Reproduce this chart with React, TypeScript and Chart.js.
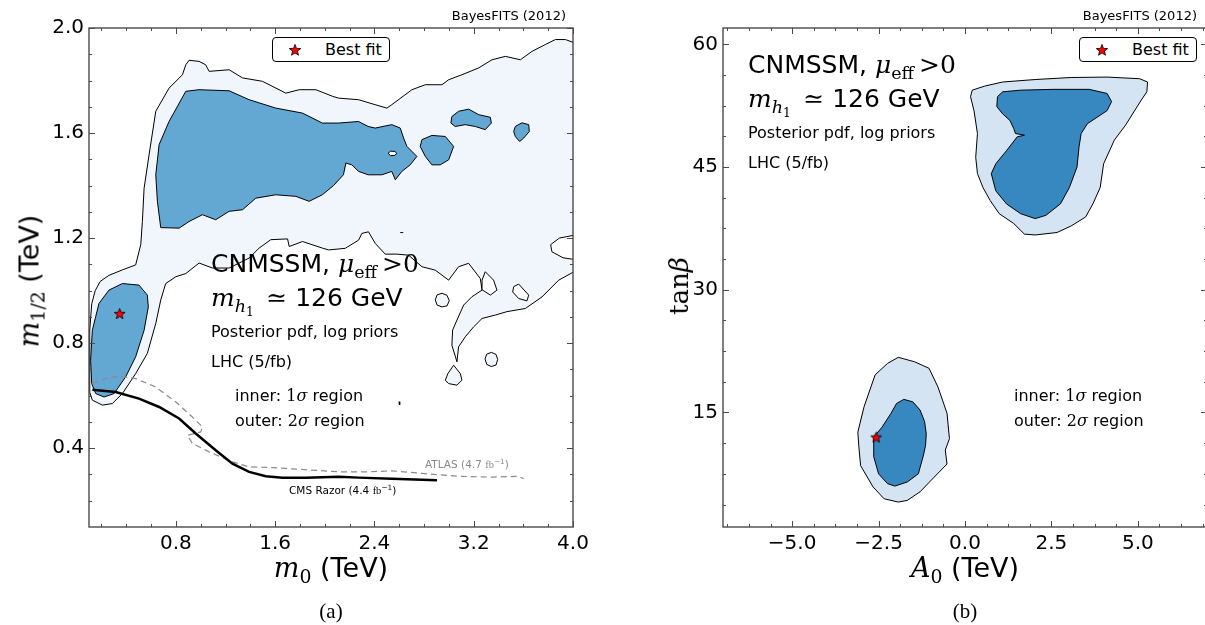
import React, { useEffect, useRef } from "react";
import { Chart, registerables } from "chart.js";

Chart.register(...registerables);

type Pt = [number, number];

// ---------------- Panel (a): m0 vs m1/2 (TeV) ----------------
const aXRange: Pt = [0.1, 4.0];
const aYRange: Pt = [0.1, 2.0];
const aXTicks = [0.8, 1.6, 2.4, 3.2, 4.0];
const aYTicks = [0.4, 0.8, 1.2, 1.6, 2.0];

// outer (2 sigma) region
const a2SigmaMain: Pt[] = [
  [0.127, 0.583], [0.108, 0.61], [0.104, 0.7], [0.108, 0.85], [0.122, 0.95], [0.15, 1.0], [0.19, 1.035],
  [0.26, 1.058], [0.369, 1.079], [0.476, 1.098], [0.517, 1.175], [0.53, 1.263], [0.544, 1.39], [0.584, 1.517],
  [0.638, 1.683], [0.745, 1.771], [0.853, 1.822], [0.88, 1.86], [0.906, 1.877], [0.987, 1.873], [1.04, 1.86],
  [1.068, 1.835], [1.229, 1.841], [1.337, 1.81], [1.498, 1.797], [1.686, 1.752], [1.794, 1.765], [1.928, 1.765],
  [2.062, 1.74], [2.11, 1.733], [2.272, 1.727], [2.406, 1.708], [2.5, 1.695], [2.54, 1.708], [2.702, 1.765],
  [2.81, 1.784], [2.944, 1.784], [2.998, 1.803], [3.105, 1.822], [3.24, 1.848], [3.347, 1.879], [3.455, 1.892],
  [3.576, 1.879], [3.67, 1.911], [3.777, 1.937], [3.858, 1.956], [3.939, 1.956], [3.992, 1.947], [4.02, 1.94],
  [4.02, 1.212], [3.89, 1.2], [3.82, 1.175], [3.83, 1.148], [3.92, 1.125], [4.02, 1.118],
  [4.02, 1.075], [3.885, 1.04], [3.75, 0.976], [3.616, 0.932], [3.468, 0.92], [3.374, 0.907], [3.267, 0.894],
  [3.199, 0.862], [3.132, 0.824], [3.078, 0.786], [3.065, 0.729], [3.024, 0.792], [3.03, 0.85], [3.065, 0.888],
  [3.119, 0.945], [3.186, 0.977], [3.267, 1.002], [3.253, 1.046], [3.159, 1.104], [3.078, 1.091], [2.998, 1.04],
  [2.89, 1.078], [2.783, 1.091], [2.675, 1.135], [2.581, 1.139], [2.487, 1.139], [2.406, 1.18], [2.352, 1.224],
  [2.299, 1.218], [2.272, 1.192], [2.164, 1.161], [2.03, 1.155], [1.98, 1.162], [1.82, 1.187], [1.713, 1.168],
  [1.7, 1.197], [1.565, 1.194], [1.471, 1.162], [1.39, 1.124], [1.229, 1.086], [1.095, 1.086], [0.987, 1.105],
  [0.88, 1.065], [0.8, 1.053], [0.718, 1.027], [0.678, 0.964], [0.638, 0.875], [0.57, 0.761], [0.476, 0.684],
  [0.369, 0.608], [0.288, 0.57], [0.208, 0.564], [0.127, 0.583],
];
const a2SigmaTeardrop: Pt[] = [
  [3.038, 0.716], [3.092, 0.684], [3.105, 0.659], [3.065, 0.64], [2.998, 0.646], [2.971, 0.659], [2.992, 0.684], [3.038, 0.716],
];
const a2SigmaBlobA: Pt[] = [
  [3.342, 0.765], [3.38, 0.757], [3.393, 0.738], [3.38, 0.717], [3.342, 0.711], [3.305, 0.719], [3.291, 0.74], [3.305, 0.758], [3.342, 0.765],
];
const a2SigmaBlobB: Pt[] = [
  [2.945, 0.99], [2.985, 0.982], [3.003, 0.962], [2.985, 0.942], [2.945, 0.938], [2.905, 0.945], [2.89, 0.965], [2.905, 0.984], [2.945, 0.99],
];
const a2SigmaHoleA: Pt[] = [
  [3.522, 1.015], [3.562, 1.025], [3.643, 0.983], [3.629, 0.961], [3.562, 0.97], [3.514, 0.995], [3.522, 1.015],
];
const a2SigmaHoleB: Pt[] = [
  [3.293, 1.072], [3.36, 1.04], [3.387, 1.002], [3.334, 0.983], [3.272, 1.002], [3.267, 1.04], [3.293, 1.072],
];

// inner (1 sigma) regions
const a1SigmaMain: Pt[] = [
  [0.88, 1.759], [0.987, 1.765], [1.229, 1.761], [1.39, 1.727], [1.605, 1.695], [1.82, 1.676], [1.98, 1.638],
  [2.11, 1.638], [2.272, 1.644], [2.35, 1.625], [2.406, 1.619], [2.54, 1.632], [2.608, 1.619], [2.635, 1.581],
  [2.662, 1.549], [2.742, 1.511], [2.688, 1.479], [2.621, 1.454], [2.568, 1.422], [2.54, 1.454], [2.46, 1.441],
  [2.35, 1.441], [2.272, 1.454], [2.218, 1.479], [2.17, 1.486], [2.15, 1.441], [2.07, 1.4], [1.98, 1.365],
  [1.874, 1.34], [1.767, 1.359], [1.605, 1.365], [1.444, 1.352], [1.337, 1.308], [1.229, 1.302], [1.121, 1.27],
  [1.014, 1.289], [0.906, 1.263], [0.826, 1.238], [0.678, 1.24], [0.651, 1.34], [0.638, 1.441], [0.665, 1.556],
  [0.745, 1.644], [0.88, 1.759],
];
const a1SigmaLowM0: Pt[] = [
  [0.154, 0.608], [0.221, 0.595], [0.302, 0.608], [0.396, 0.672], [0.476, 0.748], [0.544, 0.849], [0.578, 0.938],
  [0.57, 0.983], [0.503, 1.021], [0.369, 1.027], [0.261, 1.002], [0.18, 0.951], [0.127, 0.849], [0.113, 0.735],
  [0.122, 0.646], [0.154, 0.608],
];
const a1SigmaIsle1: Pt[] = [
  [2.783, 1.575], [2.863, 1.591], [2.971, 1.587], [3.038, 1.549], [2.998, 1.498], [2.93, 1.479], [2.863, 1.479],
  [2.81, 1.511], [2.769, 1.549], [2.783, 1.575],
];
const a1SigmaIsle2: Pt[] = [
  [3.024, 1.663], [3.078, 1.683], [3.159, 1.691], [3.24, 1.67], [3.334, 1.66], [3.342, 1.638], [3.293, 1.613],
  [3.213, 1.625], [3.132, 1.632], [3.051, 1.625], [3.016, 1.638], [3.024, 1.663],
];
const a1SigmaIsle3: Pt[] = [
  [3.535, 1.625], [3.589, 1.639], [3.643, 1.632], [3.648, 1.606], [3.603, 1.581], [3.57, 1.568], [3.535, 1.587],
  [3.522, 1.606], [3.535, 1.625],
];
const a1SigmaHole: Pt[] = [
  [2.51, 1.523], [2.53, 1.531], [2.565, 1.53], [2.58, 1.523], [2.565, 1.515], [2.53, 1.514], [2.51, 1.523],
];
const aStrayDash: Pt[] = [[2.608, 1.221], [2.632, 1.221]];
const aStrayTick: Pt[] = [[2.6, 0.578], [2.603, 0.565]];

// LHC exclusion limits
const cmsRazor: Pt[] = [
  [0.127, 0.623], [0.315, 0.614], [0.503, 0.589], [0.665, 0.557], [0.826, 0.513], [0.96, 0.456], [1.121, 0.392],
  [1.256, 0.341], [1.39, 0.31], [1.525, 0.293], [1.659, 0.288], [1.847, 0.288], [2.116, 0.291], [2.272, 0.288],
  [2.54, 0.284], [2.904, 0.278],
];
const atlas: Pt[] = [
  [0.127, 0.646], [0.234, 0.665], [0.342, 0.674], [0.476, 0.665], [0.638, 0.633], [0.8, 0.576], [0.933, 0.519],
  [1.014, 0.481], [1.0, 0.462], [0.893, 0.449], [0.933, 0.418], [1.068, 0.386], [1.256, 0.348], [1.39, 0.329],
  [1.578, 0.326], [1.82, 0.319], [2.116, 0.31], [2.353, 0.31], [2.541, 0.314], [2.809, 0.303], [3.078, 0.293],
  [3.347, 0.29], [3.562, 0.293], [3.603, 0.284],
];
const aBestFit: Pt = [0.347, 0.913];

// ---------------- Panel (b): A0 vs tan(beta) ----------------
const bXRange: Pt = [-7, 7];
const bYRange: Pt = [1, 62];
const bXTicks = [-5, -2.5, 0, 2.5, 5];
const bYTicks = [15, 30, 45, 60];

const b2SigmaHigh: Pt[] = [
  [0.16, 53.6], [0.21, 54.4], [0.57, 54.9], [1.09, 55.4], [2.03, 55.7], [3.07, 55.95], [4.11, 56.0], [5.05, 55.8],
  [5.28, 55.4], [5.26, 54.2], [5.1, 53.2], [4.64, 50.1], [4.32, 48.3], [4.01, 45.4], [3.91, 42.5], [3.7, 40.5],
  [3.49, 38.9], [3.07, 37.8], [2.66, 37.0], [2.03, 36.7], [1.72, 36.8], [1.41, 38.1], [0.99, 39.3], [0.73, 40.9],
  [0.52, 42.5], [0.36, 44.2], [0.31, 46.2], [0.36, 49.1], [0.26, 51.9], [0.16, 53.6],
];
const b1SigmaHigh: Pt[] = [
  [0.94, 53.6], [1.09, 54.2], [1.61, 54.4], [2.55, 54.5], [3.59, 54.5], [4.11, 54.0], [4.24, 53.0], [4.11, 51.9],
  [3.54, 50.3], [3.36, 49.1], [3.3, 47.5], [3.24, 45.0], [3.02, 42.5], [2.76, 40.5], [2.34, 39.1], [2.03, 38.7],
  [1.61, 39.3], [1.2, 40.5], [0.89, 42.1], [0.76, 44.2], [0.89, 45.4], [1.2, 47.0], [1.51, 48.7], [1.72, 48.9],
  [1.46, 49.1], [1.41, 49.7], [1.3, 50.7], [1.09, 51.5], [0.92, 52.4], [0.94, 53.6],
];
const b2SigmaLow: Pt[] = [
  [-1.93, 21.74], [-1.46, 21.2], [-1.04, 20.4], [-0.78, 18.1], [-0.52, 14.9], [-0.45, 11.8], [-0.57, 10.4],
  [-0.52, 8.7], [-0.89, 7.1], [-1.3, 5.3], [-1.67, 4.25], [-1.93, 4.05], [-2.34, 4.45], [-2.66, 5.9], [-3.02, 8.5],
  [-3.07, 10.8], [-3.1, 12.6], [-2.92, 15.7], [-2.6, 19.6], [-2.24, 21.0], [-1.93, 21.74],
];
const b1SigmaLow: Pt[] = [
  [-1.77, 16.6], [-1.51, 16.3], [-1.3, 15.3], [-1.17, 13.9], [-1.12, 12.4], [-1.14, 11.0], [-1.2, 9.8], [-1.35, 7.5],
  [-1.67, 6.5], [-2.03, 6.0], [-2.24, 6.3], [-2.5, 7.5], [-2.64, 9.6], [-2.64, 12.0], [-2.4, 13.2], [-2.14, 14.9],
  [-1.98, 16.1], [-1.77, 16.6],
];
const bBestFit: Pt = [-2.57, 12.0];

// ---------------- styling ----------------
const SANS = "'DejaVu Sans', sans-serif";
const SERIF = "'DejaVu Serif', serif";
const ROMAN = "'Liberation Serif', serif";
const A_LIGHT = "#f0f6fc";
const A_DARK = "#63a8d3";
const B_LIGHT = "#d4e4f3";
const B_DARK = "#3787c0";
const SPINE = "#4a4a4a";

const toXY = (pts: Pt[]) => pts.map(([x, y]) => ({ x, y }));

function area(pts: Pt[], color: string, order: number) {
  return {
    type: "line", data: toXY(pts), fill: "shape", backgroundColor: color,
    borderColor: "#000", borderWidth: 1, pointRadius: 0, tension: 0, order,
  };
}
function path(pts: Pt[], color: string, width: number, dash: number[], order: number) {
  return {
    type: "line", data: toXY(pts), fill: false, borderColor: color, borderWidth: width,
    borderDash: dash, pointRadius: 0, tension: 0, order,
  };
}
function starCanvas(size: number) {
  const c = document.createElement("canvas");
  c.width = size; c.height = size;
  const ctx = c.getContext("2d")!;
  const cx = size / 2, cy = size / 2 + size * 0.05, R = size / 2 - 0.8, r = R * 0.42;
  ctx.beginPath();
  for (let i = 0; i < 10; i++) {
    const ang = -Math.PI / 2 + (i * Math.PI) / 5;
    const rad = i % 2 === 0 ? R : r;
    ctx.lineTo(cx + rad * Math.cos(ang), cy + rad * Math.sin(ang));
  }
  ctx.closePath();
  ctx.fillStyle = "#ff0000"; ctx.fill();
  ctx.lineWidth = 0.8; ctx.strokeStyle = "#000"; ctx.stroke();
  return c;
}
function star(p: Pt) {
  return {
    type: "line", data: toXY([p]), showLine: false, pointStyle: starCanvas(13),
    pointRadius: 6, order: 0,
  };
}
function minors(min: number, max: number, step: number, majors: number[]) {
  const out: number[] = [];
  const k0 = Math.ceil(min / step - 1e-9), k1 = Math.floor(max / step + 1e-9);
  for (let k = k0; k <= k1; k++) {
    const v = k * step;
    if (Math.abs(v - min) < 1e-9 || Math.abs(v - max) < 1e-9) continue;
    if (!majors.some((m) => Math.abs(m - v) < 1e-9)) out.push(v);
  }
  return out;
}

const frameTicks = {
  id: "frameTicks",
  afterDatasetsDraw(chart: any, _args: any, opts: any) {
    const { ctx, chartArea } = chart;
    const { left, right, top, bottom } = chartArea;
    const xs = chart.scales.x, ys = chart.scales.y;
    ctx.save();
    ctx.strokeStyle = SPINE;
    ctx.lineWidth = 1;
    const drawX = (vals: number[], len: number) => {
      for (const v of vals) {
        const p = Math.round(xs.getPixelForValue(v)) + 0.5;
        ctx.beginPath(); ctx.moveTo(p, bottom); ctx.lineTo(p, bottom - len);
        ctx.moveTo(p, top); ctx.lineTo(p, top + len); ctx.stroke();
      }
    };
    const drawY = (vals: number[], len: number) => {
      for (const v of vals) {
        const p = Math.round(ys.getPixelForValue(v)) + 0.5;
        ctx.beginPath(); ctx.moveTo(left, p); ctx.lineTo(left + len, p);
        ctx.moveTo(right, p); ctx.lineTo(right - len, p); ctx.stroke();
      }
    };
    drawX(opts.xMajor, 6); drawX(opts.xMinor, 3);
    drawY(opts.yMajor, 6); drawY(opts.yMinor, 3);
    ctx.lineWidth = 1.4;
    ctx.strokeRect(left, top, right - left, bottom - top);
    ctx.restore();
  },
};

type Spec = {
  xRange: Pt; yRange: Pt; xTicks: number[]; yTicks: number[];
  xMinorStep: number; yMinorStep: number;
  xFmt: (v: number) => string; yFmt: (v: number) => string;
  yAxisWidth: number; padRight: number; datasets: any[];
};

function buildConfig(s: Spec): any {
  return {
    type: "line",
    data: { datasets: s.datasets },
    plugins: [frameTicks],
    options: {
      responsive: false, animation: false, devicePixelRatio: 1,
      layout: { padding: { left: 0, right: s.padRight, top: 28, bottom: 0 } },
      plugins: {
        legend: { display: false }, tooltip: { enabled: false },
        frameTicks: {
          xMajor: s.xTicks, yMajor: s.yTicks,
          xMinor: minors(s.xRange[0], s.xRange[1], s.xMinorStep, s.xTicks),
          yMinor: minors(s.yRange[0], s.yRange[1], s.yMinorStep, s.yTicks),
        },
      },
      scales: {
        x: {
          type: "linear", min: s.xRange[0], max: s.xRange[1],
          grid: { display: false, drawTicks: false }, border: { display: false },
          ticks: { color: "#000", font: { family: SANS, size: 20 }, padding: 5, maxRotation: 0, autoSkip: false,
            callback: (v: number) => s.xFmt(v) },
          afterBuildTicks: (sc: any) => { sc.ticks = s.xTicks.map((v) => ({ value: v })); },
          afterFit: (sc: any) => { sc.height = 33; },
        },
        y: {
          type: "linear", min: s.yRange[0], max: s.yRange[1],
          grid: { display: false, drawTicks: false }, border: { display: false },
          ticks: { color: "#000", font: { family: SANS, size: 20 }, padding: 5, autoSkip: false,
            callback: (v: number) => s.yFmt(v) },
          afterBuildTicks: (sc: any) => { sc.ticks = s.yTicks.map((v) => ({ value: v })); },
          afterFit: (sc: any) => { sc.width = s.yAxisWidth; },
        },
      },
    },
  };
}

const specA = (): Spec => ({
  xRange: aXRange, yRange: aYRange, xTicks: aXTicks, yTicks: aYTicks, xMinorStep: 0.2, yMinorStep: 0.1,
  xFmt: (v) => v.toFixed(1), yFmt: (v) => v.toFixed(1), yAxisWidth: 89, padRight: 27,
  datasets: [
    area(a2SigmaMain, A_LIGHT, 50),
    area(a2SigmaTeardrop, A_LIGHT, 49), area(a2SigmaBlobA, A_LIGHT, 49), area(a2SigmaBlobB, A_LIGHT, 49),
    area(a2SigmaHoleA, "#ffffff", 45), area(a2SigmaHoleB, "#ffffff", 45),
    area(a1SigmaMain, A_DARK, 30), area(a1SigmaLowM0, A_DARK, 30),
    area(a1SigmaIsle1, A_DARK, 30), area(a1SigmaIsle2, A_DARK, 30), area(a1SigmaIsle3, A_DARK, 30),
    area(a1SigmaHole, "#ffffff", 25),
    path(aStrayDash, "#000", 1, [], 20), path(aStrayTick, "#000", 1.5, [], 20),
    path(atlas, "#8a8a8a", 1.2, [6, 4], 12),
    path(cmsRazor, "#000", 2.5, [], 11),
    star(aBestFit),
  ],
});

const minus = (v: number) => (v < 0 ? "\u2212" : "") + Math.abs(v).toFixed(1);

const specB = (): Spec => ({
  xRange: bXRange, yRange: bYRange, xTicks: bXTicks, yTicks: bYTicks, xMinorStep: 0.625, yMinorStep: 3.75,
  xFmt: minus, yFmt: (v) => String(v), yAxisWidth: 103, padRight: 13,
  datasets: [
    area(b2SigmaHigh, B_LIGHT, 50), area(b2SigmaLow, B_LIGHT, 50),
    area(b1SigmaHigh, B_DARK, 30), area(b1SigmaLow, B_DARK, 30),
    star(bBestFit),
  ],
});

function Panel({ left, make }: { left: number; make: () => Spec }) {
  const ref = useRef<HTMLCanvasElement>(null);
  useEffect(() => {
    const chart = new Chart(ref.current as HTMLCanvasElement, buildConfig(make()));
    return () => chart.destroy();
  }, []);
  return (
    <canvas ref={ref} width={600} height={560}
      style={{ position: "absolute", left, top: 0, width: 600, height: 560 }} />
  );
}

// ---------------- text helpers ----------------
function Txt(props: { x: number; y: number; size: number; anchor?: string; color?: string; rotate?: boolean; family?: string; children: any }) {
  const { x, y, size, anchor = "left", color = "#000", rotate = false, family = SANS, children } = props;
  const tx = anchor === "left" ? "0" : anchor === "center" ? "-50%" : "-100%";
  return (
    <div style={{
      position: "absolute", left: x, top: y, fontFamily: family, fontSize: size, lineHeight: 1, color,
      whiteSpace: "nowrap", transform: `translate(${tx},-50%)${rotate ? " rotate(-90deg)" : ""}`,
    }}>{children}</div>
  );
}
const I = ({ children }: any) => <span style={{ fontFamily: SERIF, fontStyle: "italic" }}>{children}</span>;
const R = ({ children }: any) => <span style={{ fontFamily: SERIF }}>{children}</span>;
const Sub = ({ children }: any) => (
  <span style={{ fontSize: "0.7em", position: "relative", top: "0.32em" }}>{children}</span>
);
const Sup = ({ children }: any) => (
  <span style={{ fontSize: "0.7em", position: "relative", top: "-0.5em" }}>{children}</span>
);

function StarIcon({ x, y }: { x: number; y: number }) {
  const pts: string[] = [];
  for (let i = 0; i < 10; i++) {
    const ang = -Math.PI / 2 + (i * Math.PI) / 5;
    const rad = i % 2 === 0 ? 6 : 2.5;
    pts.push(`${(7 + rad * Math.cos(ang)).toFixed(2)},${(7.4 + rad * Math.sin(ang)).toFixed(2)}`);
  }
  return (
    <svg width={14} height={14} style={{ position: "absolute", left: x - 7, top: y - 7 }}>
      <polygon points={pts.join(" ")} fill="#ff0000" stroke="#000" strokeWidth={0.8} />
    </svg>
  );
}

function Legend({ x }: { x: number }) {
  return (
    <div style={{ position: "absolute", left: x, top: 37, width: 116, height: 23, border: "1px solid #000",
      borderRadius: 4, background: "#fff" }}>
      <StarIcon x={22} y={11.5} />
      <Txt x={52} y={12} size={16}>Best fit</Txt>
    </div>
  );
}

function PanelText({ x, yTop, size }: { x: number; yTop: number; size: number }) {
  return (
    <>
      <Txt x={x} y={yTop} size={size}>
        CNMSSM, <I>μ</I><Sub><R>eff</R></Sub><R>{"\u2009>0"}</R>
      </Txt>
      <Txt x={x} y={yTop + 34} size={size}>
        <I>m</I><Sub><I>h</I><Sub><R>1</R></Sub></Sub><R>{"\u2002\u2243 "}</R>126 GeV
      </Txt>
      <Txt x={x} y={yTop + 69} size={16}>Posterior pdf, log priors</Txt>
      <Txt x={x} y={yTop + 99} size={16}>LHC (5/fb)</Txt>
    </>
  );
}

function SigmaText({ x }: { x: number }) {
  return (
    <>
      <Txt x={x} y={396} size={16}>inner: <R>1</R><I>σ</I> region</Txt>
      <Txt x={x} y={421} size={16}>outer: <R>2</R><I>σ</I> region</Txt>
    </>
  );
}

export default function App() {
  return (
    <div style={{ position: "absolute", left: 0, top: 0, width: 1205, height: 625, overflow: "hidden", background: "#fff" }}>
      <Panel left={0} make={specA} />
      <Panel left={620} make={specB} />

      {/* panel (a) texts */}
      <Txt x={566} y={15} size={13} anchor="right">BayesFITS (2012)</Txt>
      <Legend x={272} />
      <PanelText x={211} yTop={263} size={25} />
      <SigmaText x={235} />
      <Txt x={425} y={465} size={10.5} color="#8a8a8a">ATLAS (4.7 <span style={{ fontFamily: ROMAN }}>fb</span><Sup>−1</Sup>)</Txt>
      <Txt x={289} y={491} size={10.5}>CMS Razor (4.4 <span style={{ fontFamily: ROMAN }}>fb</span><Sup>−1</Sup>)</Txt>
      <Txt x={29} y={281} size={27} anchor="center" rotate>
        <I>m</I><Sub><R>1/2</R></Sub> (TeV)
      </Txt>
      <Txt x={331} y={567} size={27} anchor="center">
        <I>m</I><Sub><R>0</R></Sub> (TeV)
      </Txt>
      <Txt x={331} y={611} size={21} anchor="center" family={ROMAN}>(a)</Txt>

      {/* panel (b) texts */}
      <Txt x={1197} y={15} size={13} anchor="right">BayesFITS (2012)</Txt>
      <Legend x={1079} />
      <PanelText x={748} yTop={64} size={25} />
      <SigmaText x={1014} />
      <Txt x={679} y={286} size={26} anchor="center" rotate family={SERIF}>
        tan<I>β</I>
      </Txt>
      <Txt x={965} y={567} size={27} anchor="center">
        <I>A</I><Sub><R>0</R></Sub> (TeV)
      </Txt>
      <Txt x={965} y={611} size={21} anchor="center" family={ROMAN}>(b)</Txt>
    </div>
  );
}
